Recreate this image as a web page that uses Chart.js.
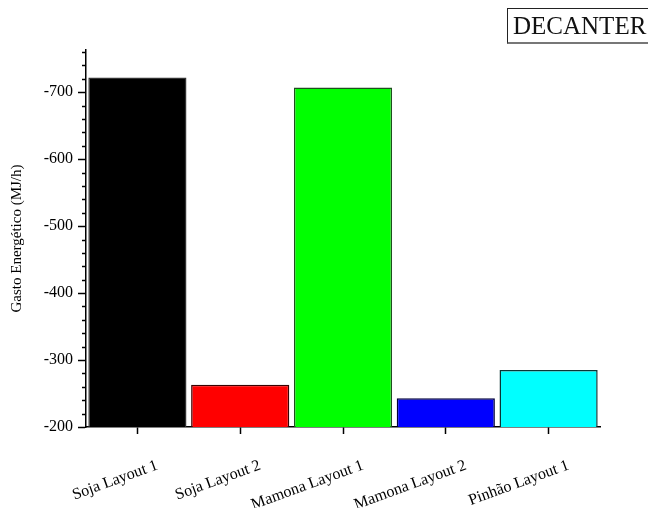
<!DOCTYPE html>
<html>
<head>
<meta charset="utf-8">
<script src="https://cdn.jsdelivr.net/npm/chart.js@4/dist/chart.umd.min.js"></script>
<style>
    body { margin: 0; background: #fff; }
    #wrap { position: relative; width: 648px; height: 508px; overflow: hidden; }
    #tag {
        position: absolute; left: 507px; top: 8px; width: 150px; height: 33px;
        border: 1px solid #222; border-bottom: 2px solid #777;
        font-family: "Liberation Serif", serif; font-size: 25px; line-height: 33px;
        padding-left: 5px; color: #111; box-sizing: content-box;
    }
</style>
</head>
<body>
<div id="wrap">
    <canvas id="chart" width="648" height="508"></canvas>
    <div id="tag">DECANTER</div>
</div>
<script>
// ===== DATA =====
const categories = ["Soja Layout 1", "Soja Layout 2", "Mamona Layout 1", "Mamona Layout 2", "Pinhão Layout 1"];
const gasto = [-722, -263, -707, -243, -285];
const fillColors = ["#000000", "#ff0000", "#00ff00", "#0000ff", "#00ffff"];
const edgeColors = ["#333333", "#3a0000", "#1e4f1e", "#00003a", "#0a3535"];
const yMin = -763;
const yMax = -200;

const serif = "'Liberation Serif', 'Times New Roman', serif";

// ===== MINOR TICKS ON Y =====
const minorTicks = {
    id: "minorTicks",
    afterDraw(chart) {
        const y = chart.scales.y;
        const ctx = chart.ctx;
        ctx.save();
        ctx.strokeStyle = "#000";
        ctx.lineWidth = 1.5;
        for (let v = -760; v <= -200; v += 20) {
            if (v % 100 === 0) continue;
            const py = Math.round(y.getPixelForValue(v)) + 0.5;
            ctx.beginPath();
            ctx.moveTo(y.right - 4, py);
            ctx.lineTo(y.right, py);
            ctx.stroke();
        }
        ctx.restore();
    }
};

// ===== CHART =====
new Chart(document.getElementById("chart"), {
    type: "bar",
    data: {
        labels: categories,
        datasets: [{
            data: gasto,
            backgroundColor: fillColors,
            borderColor: edgeColors,
            borderWidth: 1.5,
            borderSkipped: false,
            barPercentage: 0.955,
            categoryPercentage: 1
        }]
    },
    options: {
        responsive: false,
        animation: false,
        layout: { padding: { left: 0, right: 48, top: 50, bottom: 0 } },
        plugins: { legend: { display: false }, tooltip: { enabled: false } },
        scales: {
            x: {
                offset: true,
                grid: { display: true, offset: false, drawOnChartArea: false, tickLength: 7, tickColor: "#000", tickWidth: 1.5 },
                border: { display: true, color: "#000", width: 1.5 },
                ticks: {
                    minRotation: 20, maxRotation: 20, autoSkip: false,
                    labelOffset: 20, padding: 22,
                    color: "#000", font: { family: serif, size: 16 }
                },
                afterFit(scale) { scale.height = 81; }
            },
            y: {
                reverse: true,
                min: yMin,
                max: yMax,
                grid: { display: true, drawOnChartArea: false, tickLength: 8, tickColor: "#000", tickWidth: 1.5 },
                border: { display: true, color: "#000", width: 1.5 },
                ticks: {
                    stepSize: 100, includeBounds: false, padding: 5,
                    color: "#000", font: { family: serif, size: 16 },
                    callback: v => String(v)
                },
                title: {
                    display: true, text: "Gasto Energético (MJ/h)",
                    color: "#000", font: { family: serif, size: 15 },
                    padding: { top: 8, bottom: 0 }
                },
                afterFit(scale) { scale.width = 86; }
            }
        }
    },
    plugins: [minorTicks]
});
</script>
</body>
</html>
